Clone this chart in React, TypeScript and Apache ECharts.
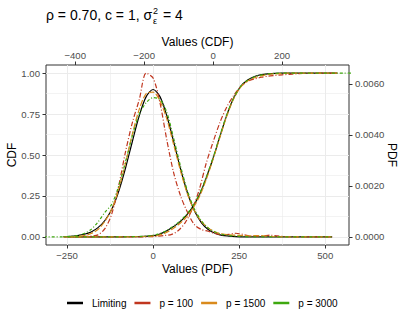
import React, { useEffect, useRef } from "react";
import * as echarts from "echarts";

// ---- Data ----
const seriesNames = ["Limiting", "p = 100", "p = 1500", "p = 3000"];
const seriesColors = ["#000000", "#C0361F", "#D98A1C", "#3EA80F"];

// PDF curves: x on bottom axis "Values (PDF)", y on right axis "PDF"
const pdfX = [
  -260, -240, -220, -200, -180, -160, -140, -120, -100, -80, -60, -40, -20, 0, 20, 40, 60, 80, 100, 120,
  140, 160, 180, 200, 220, 240, 260, 280, 300, 320, 340, 360, 380, 400, 420, 440, 460, 480, 500, 520,
];
const pdfLimiting = [
  0.00001, 0.00002, 0.00005, 0.0001, 0.00019, 0.00036, 0.00064, 0.00108, 0.00178, 0.0027, 0.00375, 0.00476, 0.0055, 0.00578,
  0.0055, 0.00474, 0.00372, 0.00265, 0.00172, 0.00102, 0.00056, 0.00029, 0.00014, 0.00006, 0.00003, 0.00001,
  0, 0, 0, 0, 0, 0, 0, 0, 0, 0, 0, 0, 0, 0,
];
const pdfP100 = [
  0, 0, 0.0000064, 0.000013, 0.000026, 0.000077, 0.00032, 0.0009, 0.00199, 0.00334, 0.00449, 0.00539, 0.00642, 0.00623,
  0.00526, 0.00379, 0.0025, 0.0016, 0.00096, 0.00048, 0.00029, 0.00022, 0.00013, 0.000077, 0.000096, 0.00014,
  0.000096, 0.000032, 0.000019, 0.000032, 0.000064, 0.000039, 0.000013, 0, 0, 0, 0, 0, 0, 0,
];
const pdfP1500 = [
  0, 0.0000064, 0.000019, 0.000051, 0.00013, 0.00029, 0.00061, 0.00109, 0.00186, 0.00289, 0.00404, 0.00501, 0.00562, 0.00568,
  0.00533, 0.00462, 0.0036, 0.00257, 0.00167, 0.00103, 0.00061, 0.00035, 0.00019, 0.00012, 0.000077, 0.000064,
  0.000051, 0.000039, 0.000051, 0.000039, 0.000019, 0.0000064, 0, 0, 0, 0, 0, 0, 0, 0,
];
const pdfP3000 = [
  0.0000064, 0.000019, 0.000051, 0.00013, 0.00029, 0.00058, 0.00096, 0.00128, 0.00199, 0.00295, 0.00398, 0.00482, 0.00526, 0.00546,
  0.00539, 0.00488, 0.00385, 0.00276, 0.0018, 0.00109, 0.00064, 0.00035, 0.00019, 0.000096, 0.000051, 0.000026,
  0.000013, 0, 0, 0, 0, 0, 0, 0, 0, 0, 0, 0, 0, 0,
];

// CDF curves: x on top axis "Values (CDF)", y on left axis "CDF"
const cdfX = [
  -500, -480, -460, -440, -420, -400, -380, -360, -340, -320, -300, -280, -260, -240, -220, -200, -180, -160, -140, -120,
  -100, -80, -60, -40, -20, 0, 20, 40, 60, 80, 100, 120, 140, 160, 180, 200, 220, 240, 260, 280,
  300, 320, 340, 360, 380, 400,
];
const cdfLimiting = [
  null, null, null, null, 0, 0, 0, 0, 0, 0, 0, 0, 0, 0.0005, 0.001, 0.003, 0.006, 0.012, 0.03, 0.055,
  0.085, 0.125, 0.18, 0.255, 0.36, 0.48, 0.615, 0.745, 0.85, 0.92, 0.958, 0.98, 0.991, 0.996, 0.999, 1, 1, 1, 1, 1,
  1, 1, 1, 1, null, null,
];
const cdfP100 = [
  null, null, null, null, 0, 0, 0, 0, 0, 0, 0, 0, 0, 0, 0, 0, 0.001, 0.004, 0.008, 0.015,
  0.04, 0.09, 0.17, 0.29, 0.45, 0.58, 0.7, 0.795, 0.865, 0.918, 0.95, 0.965, 0.975, 0.982, 0.986, 0.99, 0.993, 0.996, 0.998, 0.999,
  1, 1, 1, 1, null, null,
];
const cdfP1500 = [
  null, null, null, null, 0, 0, 0, 0, 0, 0, 0, 0, 0, 0, 0.001, 0.002, 0.004, 0.009, 0.022, 0.045,
  0.075, 0.115, 0.17, 0.245, 0.35, 0.475, 0.61, 0.74, 0.845, 0.915, 0.952, 0.972, 0.984, 0.992, 0.996, 0.998, 1, 1, 1, 1,
  1, 1, 1, 1, null, null,
];
const cdfP3000 = [
  0, 0, 0, 0, 0, 0, 0, 0, 0, 0, 0, 0, 0, 0.001, 0.002, 0.004, 0.008, 0.016, 0.033, 0.058,
  0.09, 0.13, 0.185, 0.26, 0.365, 0.485, 0.62, 0.75, 0.85, 0.92, 0.957, 0.978, 0.99, 0.996, 0.999, 1, 1, 1, 1, 1,
  1, 1, 1, 1, 1, 1,
];

// Tick values
const bottomTicks = [-250, 0, 250, 500];
const topTicks = [-400, -200, 0, 200];
const leftTicks = [0, 0.25, 0.5, 0.75, 1];
const rightTicks = [0, 0.002, 0.004, 0.006];

const FONT = '"Liberation Sans", Arial, Helvetica, sans-serif';
const fmtNum = (v: number) => (v < 0 ? "\u2212" + Math.abs(v) : String(v));

export default function App() {
  const ref = useRef<HTMLDivElement>(null);
  useEffect(() => {
    if (!ref.current) return;
    const chart = echarts.init(ref.current, null, { renderer: "svg" });
    const pdfSets = [pdfLimiting, pdfP100, pdfP1500, pdfP3000];
    const cdfSets = [cdfLimiting, cdfP100, cdfP1500, cdfP3000];
    const dashes: any[] = ["solid", [5, 2, 1, 2], [6, 2], [1, 2, 3, 2]];
    const series: any[] = [];
    seriesNames.forEach((name, i) => {
      const common = {
        type: "line",
        name,
        showSymbol: false,
        symbol: "none",
        smooth: 0.3,
        clip: true,
        lineStyle: { color: seriesColors[i], width: 1.2, type: dashes[i] },
        itemStyle: { color: seriesColors[i] },
        z: 2 + i,
      };
      series.push({
        ...common,
        xAxisIndex: 0,
        yAxisIndex: 1,
        data: pdfX.map((x, j) => [x, pdfSets[i][j]]),
      });
      series.push({
        ...common,
        xAxisIndex: 1,
        yAxisIndex: 0,
        data: cdfX.map((x, j) => [x, cdfSets[i][j]]),
      });
    });

    const tickStyle = { show: true, length: 3.5, lineStyle: { color: "#333333", width: 1 } };
    const labelStyle = { color: "#4D4D4D", fontSize: 9.6, fontFamily: FONT };
    const nameStyle = { color: "#000000", fontSize: 12, fontFamily: FONT };
    const noLine = { show: false, onZero: false };

    chart.setOption({
      animation: false,
      backgroundColor: "#ffffff",
      textStyle: { fontFamily: FONT },
      grid: {
        left: 46,
        right: 58,
        top: 65,
        bottom: 81,
        show: true,
        borderColor: "#333333",
        borderWidth: 1,
        backgroundColor: "#ffffff",
        containLabel: false,
        outerBoundsMode: "none",
      },
      graphic: [
        {
          type: "text",
          x: 46,
          y: 15,
          style: { text: "\u03C1 = 0.70, c = 1, \u03C3", fontSize: 14, fontFamily: FONT, fill: "#000", verticalAlign: "middle", align: "left" },
        },
        {
          type: "text",
          x: 153,
          y: 10.5,
          style: { text: "2", fontSize: 9, fontFamily: FONT, fill: "#000", verticalAlign: "middle", align: "left" },
        },
        {
          type: "text",
          x: 153,
          y: 20.5,
          style: { text: "\u03B5", fontSize: 9, fontFamily: FONT, fill: "#000", verticalAlign: "middle", align: "left" },
        },
        {
          type: "text",
          x: 159,
          y: 15,
          style: { text: " = 4", fontSize: 14, fontFamily: FONT, fill: "#000", verticalAlign: "middle", align: "left" },
        },
      ],
      legend: {
        data: seriesNames,
        left: 67,
        top: 298,
        padding: 0,
        icon: "rect",
        itemWidth: 16,
        itemHeight: 2.5,
        itemGap: 8,
        textStyle: { fontSize: 10, color: "#000", fontFamily: FONT, padding: [0, 0, 0, 4] },
      },
      xAxis: [
        {
          type: "value",
          position: "bottom",
          min: -311,
          max: 569,
          minInterval: 250,
          maxInterval: 250,
          axisLine: noLine,
          axisTick: { ...tickStyle, customValues: bottomTicks },
          axisLabel: { ...labelStyle, customValues: bottomTicks, margin: 5, formatter: (v: number) => fmtNum(v) },
          splitLine: { show: true, lineStyle: { color: "#EBEBEB", width: 1 } },
          minorTick: { show: false, splitNumber: 2 },
          minorSplitLine: { show: true, lineStyle: { color: "#EBEBEB", width: 0.6 } },
          name: "Values (PDF)",
          nameLocation: "middle",
          nameGap: 18,
          nameMoveOverlap: false,
          nameTextStyle: nameStyle,
        },
        {
          type: "value",
          position: "top",
          min: -484.6,
          max: 394,
          minInterval: 200,
          maxInterval: 200,
          axisLine: noLine,
          axisTick: { ...tickStyle, customValues: topTicks },
          axisLabel: { ...labelStyle, customValues: topTicks, margin: 5, formatter: (v: number) => fmtNum(v) },
          splitLine: { show: false },
          name: "Values (CDF)",
          nameLocation: "middle",
          nameGap: 17,
          nameMoveOverlap: false,
          nameTextStyle: nameStyle,
        },
      ],
      yAxis: [
        {
          type: "value",
          position: "left",
          min: -0.05,
          max: 1.05,
          minInterval: 0.25,
          maxInterval: 0.25,
          axisLine: noLine,
          axisTick: { ...tickStyle, customValues: leftTicks },
          axisLabel: { ...labelStyle, customValues: leftTicks, margin: 6, formatter: (v: number) => v.toFixed(2) },
          splitLine: { show: true, lineStyle: { color: "#EBEBEB", width: 1 } },
          minorTick: { show: false, splitNumber: 2 },
          minorSplitLine: { show: true, lineStyle: { color: "#EBEBEB", width: 0.6 } },
          name: "CDF",
          nameLocation: "middle",
          nameGap: 28,
          nameRotate: 90,
          nameMoveOverlap: false,
          nameTextStyle: nameStyle,
        },
        {
          type: "value",
          position: "right",
          min: -0.000321,
          max: 0.006741,
          minInterval: 0.002,
          maxInterval: 0.002,
          axisLine: noLine,
          axisTick: { ...tickStyle, customValues: rightTicks },
          axisLabel: { ...labelStyle, customValues: rightTicks, margin: 6, formatter: (v: number) => v.toFixed(4) },
          splitLine: { show: false },
          name: "PDF",
          nameLocation: "middle",
          nameGap: 37,
          nameRotate: -90,
          nameMoveOverlap: false,
          nameTextStyle: nameStyle,
        },
      ],
      series,
    });
    return () => chart.dispose();
  }, []);
  return <div ref={ref} style={{ position: "fixed", left: 0, top: 0, width: 407, height: 326 }} />;
}
